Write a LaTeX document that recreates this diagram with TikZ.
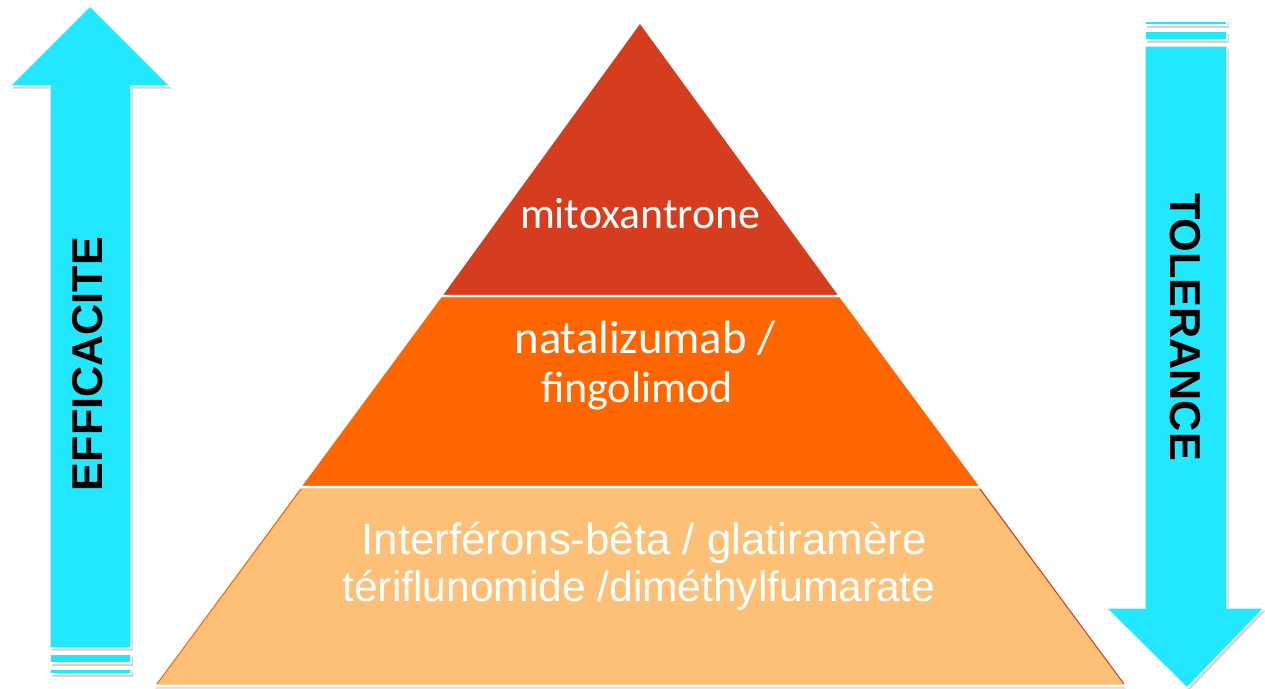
\documentclass[tikz,border=0pt]{standalone}
\usepackage{fontspec}
\usepackage{graphicx}
\newfontfamily\carl{Carlito}
\newfontfamily\arialf{Liberation Sans}
\usetikzlibrary{shadows}
\definecolor{tiertop}{RGB}{214,61,31}
\definecolor{tiermid}{RGB}{255,102,0}
\definecolor{tierbot}{RGB}{254,192,119}
\definecolor{cyanarrow}{RGB}{33,231,255}
\tikzset{
  arrowshape/.style={fill=cyanarrow, draw=white, line width=0.8pt,
    drop shadow={shadow xshift=1pt, shadow yshift=-1.5pt, opacity=0.35, fill=gray}},
  tier/.style={draw=white, line width=1.2pt, line join=miter},
  tiertext/.style={text=white, inner sep=0pt, anchor=base},
  sidetext/.style={text=black, inner sep=0pt, font=\arialf\bfseries}
}
\begin{document}
\begin{tikzpicture}[x=0.02cm, y=-0.02cm]
\useasboundingbox (0,0) rectangle (1265,689);
% left arrow (efficacite)
\path[arrowshape] (90,6) -- (170,86) -- (131,86) -- (131,648) -- (50,648) -- (50,86) -- (10,86) -- cycle;
\path[arrowshape] (50,654) rectangle (131,663);
\path[arrowshape] (50,669) rectangle (131,674);
% right arrow (tolerance)
\path[arrowshape] (1145,21) rectangle (1227,25);
\path[arrowshape] (1145,31) rectangle (1227,40);
\path[arrowshape] (1145,46) -- (1227,46) -- (1227,608) -- (1264,608) -- (1187,688) -- (1106,608) -- (1145,608) -- cycle;
% pyramid
\path[tier, fill=tierbot, drop shadow={shadow xshift=0pt, shadow yshift=-1.5pt, opacity=0.3, fill=gray}] (300,487) -- (981,487) -- (1126,686) -- (155,686) -- cycle;
\draw[tiermid, line width=0.6pt] (157,684) -- (301,489);
\draw[tiertop, line width=0.6pt] (980,489) -- (1124,684);
\path[tier, fill=tiermid] (441,296) -- (840,296) -- (981,487) -- (300,487) -- cycle;
\path[tier, fill=tiertop] (640,22) -- (840,296) -- (441,296) -- cycle;
% texts
\node[tiertext] (mito) at (640,229) {\resizebox{4.8cm}{!}{\carl mitoxantrone}};
\node[tiertext] (nata) at (645,353) {\resizebox{5.22cm}{!}{\carl natalizumab /}};
\node[tiertext] (fingo) at (637,402) {\resizebox{3.84cm}{!}{\carl fingolimod}};
\node[tiertext] (inter) at (644,554) {\resizebox{11.3cm}{!}{\arialf Interférons-bêta / glatiramère}};
\node[tiertext] (teri) at (639,601) {\resizebox{11.86cm}{!}{\arialf tériflunomide /diméthylfumarate}};
\node[sidetext, rotate=90] (eff) at (88,364) {\resizebox{5.08cm}{!}{EFFICACITE}};
\node[sidetext, rotate=-90] (tol) at (1185,327) {\resizebox{5.36cm}{!}{TOLERANCE}};
\end{tikzpicture}
\end{document}
